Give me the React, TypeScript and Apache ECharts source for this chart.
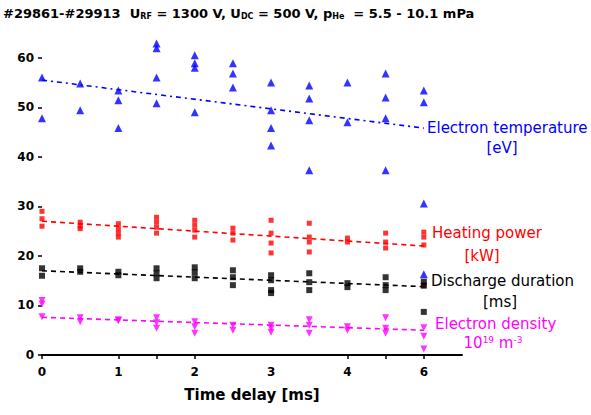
import React, { useEffect, useRef } from "react";
import * as echarts from "echarts";

const timeDelays = [0, 0.5, 1, 1.5, 2, 2.5, 3, 3.5, 4, 4.5, 6];
const xTickValues = [0, 1, 1.5, 2, 4, 4.5, 5];
const xLabelValues = [0, 1, 2, 3, 4, 5];

const electronTemperature = [
  [56, 47.8], [54.8, 49.4], [53.4, 51.4, 45.8], [62.9, 61.9, 56, 50.8],
  [60.5, 58.9, 58, 49], [58.9, 56.8, 54], [55, 49.4, 45.8, 42.3],
  [54.4, 51.8, 47.4, 37.3], [55, 47], [56.8, 52, 47.8, 37.3], [53.4, 51, 30.6, 16.3],
];
const heatingPower = [
  [29, 27.5, 26], [26.8, 26, 25.5], [26.5, 25.5, 24.6, 23.8], [27.8, 26.8, 25.8, 24.6],
  [27.2, 26.2, 25.2, 23.8], [25.6, 24.6, 23.2], [27.2, 24.6, 22.6, 20.6],
  [26.6, 23.8, 22.8, 20.8], [23.6, 22.8], [24.6, 22.8, 21.6], [24.8, 23.8, 22.2, 14],
];
const dischargeDuration = [
  [17.5, 16], [17.5, 16.8], [16.8, 16.1], [17.5, 16.5, 15.5], [17.7, 16.7, 15.5],
  [17.1, 15.7, 14.1], [16.1, 15.1, 13.1, 12.5], [16.5, 14.7, 13.1], [14.5, 13.7],
  [15.7, 14.1, 13.1], [14.8, 14, 8.7],
];
const electronDensity = [
  [11, 10.3, 7.7], [7.5, 6.7], [7.1, 6.9], [7.5, 6.5, 5.4], [6.7, 5.7, 4.4], [6, 5],
  [6, 5.4, 4.6], [7.1, 6, 4.4], [5.7, 5], [7.5, 5.4, 4.4], [5.5, 3.8, 1.2],
];
const trendTemperature = [55.5, 45.8];
const trendHeating = [27, 22];
const trendDischarge = [17, 13.8];
const trendDensity = [7.6, 5.0];

// the axis is compressed: the 6 ms group sits where 5 would be
const axisPos = (t: number) => (t === 6 ? 5 : t);

const toPoints = (groups: number[][]) =>
  groups.flatMap((vals, i) => vals.map((v) => [axisPos(timeDelays[i]), v]));
const trend = (ends: number[]) => [
  [axisPos(timeDelays[0]), ends[0]],
  [axisPos(timeDelays[timeDelays.length - 1]), ends[1]],
];

const BLUE = "#0000ff";
const RED = "#ff0000";
const BLACK = "#000000";
const MAGENTA = "#ff00ff";
const FONT = "DejaVu Sans";
const LABEL_FONT = `15px "${FONT}"`;

export default function App() {
  const ref = useRef<HTMLDivElement>(null);
  useEffect(() => {
    if (!ref.current) return;
    document.body.style.margin = "0";
    const chart = echarts.init(ref.current, null, { renderer: "svg" });
    const scatter = (data: number[][], color: string, symbol: string, size: number) => ({
      type: "scatter",
      data,
      symbol,
      symbolSize: size,
      itemStyle: { color },
      z: 3,
    });
    const line = (data: number[][], color: string, dash: number[]) => ({
      type: "line",
      data,
      symbol: "none",
      lineStyle: { color, width: 1.6, type: dash },
      z: 2,
    });
    const label = (text: string, x: number, y: number, fill: string, align = "left", rich?: any) => ({
      type: "text",
      x,
      y,
      style: { text, font: LABEL_FONT, fill, align, verticalAlign: "middle", rich },
    });
    chart.setOption({
      animation: false,
      backgroundColor: "#ffffff",
      grid: { left: 42, right: 129, top: 33, bottom: 60, containLabel: false, outerBoundsMode: "none" },
      xAxis: {
        type: "value",
        min: 0,
        max: 5.5,
        name: "Time delay [ms]",
        nameLocation: "middle",
        nameGap: 32,
        nameTextStyle: { fontFamily: FONT, fontSize: 15, fontWeight: "bold", color: BLACK },
        axisLine: { show: true, lineStyle: { color: BLACK, width: 2 } },
        axisTick: { show: true, length: 4, lineStyle: { color: BLACK, width: 1.5 }, customValues: xTickValues },
        axisLabel: {
          customValues: xLabelValues,
          formatter: (v: number) => (v === 5 ? "6" : String(v)),
          fontFamily: FONT,
          fontSize: 12,
          fontWeight: "bold",
          color: BLACK,
          margin: 11,
        },
        splitLine: { show: false },
      },
      yAxis: {
        type: "value",
        min: 0,
        max: 65,
        interval: 10,
        axisLine: { show: false },
        axisTick: { show: true, length: 4, lineStyle: { color: BLACK, width: 1.5 } },
        axisLabel: {
          fontFamily: FONT,
          fontSize: 12,
          fontWeight: "bold",
          color: BLACK,
          margin: 8,
          showMaxLabel: false,
        },
        splitLine: { show: false },
      },
      graphic: [
        {
          type: "text",
          left: 3,
          top: 7,
          style: {
            text:
              "#29861-#29913  U{sub|RF} = 1300 V, U{sub|DC} = 500 V, p{sub|He}  = 5.5 - 10.1 mPa",
            font: `bold 13px "${FONT}"`,
            fill: BLACK,
            rich: {
              sub: { fontSize: 8, fontWeight: "bold", fontFamily: FONT, verticalAlign: "bottom", padding: [6, 0, 0, 0] },
            },
          },
        },
        label("Electron temperature", 427, 128, BLUE),
        label("[eV]", 502, 148, BLUE, "center"),
        label("Heating power", 432, 233, RED),
        label("[kW]", 482, 256, RED, "center"),
        label("Discharge duration", 431, 281, BLACK),
        label("[ms]", 500, 302, BLACK, "center"),
        label("Electron density", 435, 324, MAGENTA),
        label("10{sup|19} m{sup|-3}", 493, 343, MAGENTA, "center", {
          sup: { fontSize: 9, fontFamily: FONT, fill: MAGENTA, verticalAlign: "top", padding: [0, 0, 7, 0] },
        }),
      ],
      series: [
        line(trend(trendTemperature), BLUE, [5, 4, 2, 4]),
        line(trend(trendHeating), RED, [5, 4]),
        line(trend(trendDischarge), BLACK, [5, 4]),
        line(trend(trendDensity), MAGENTA, [5, 4]),
        scatter(toPoints(electronTemperature), BLUE, "triangle", 8),
        scatter(toPoints(heatingPower), RED, "rect", 5),
        scatter(toPoints(dischargeDuration), BLACK, "rect", 6),
        scatter(toPoints(electronDensity), MAGENTA, "path://M0,0 L10,0 L5,8 Z", 7),
      ],
    });
    return () => chart.dispose();
  }, []);
  return <div ref={ref} style={{ width: 591, height: 415 }} />;
}
